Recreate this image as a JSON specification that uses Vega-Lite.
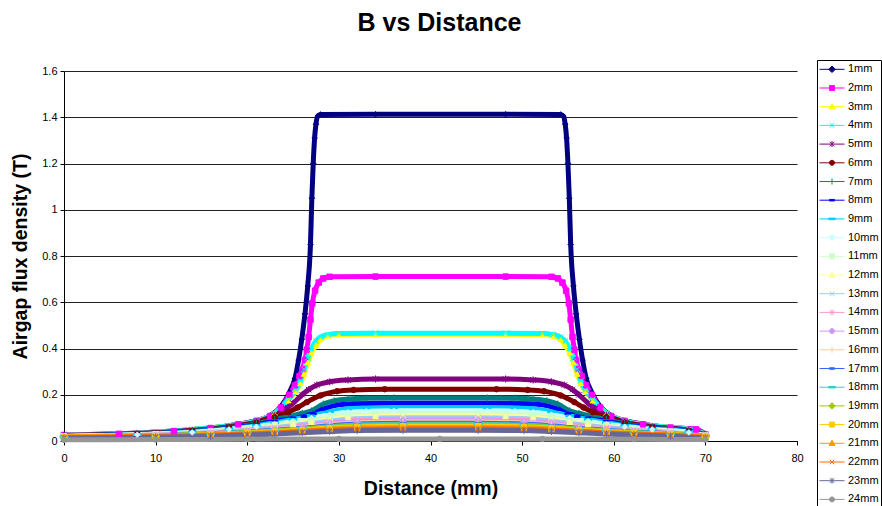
{
  "$schema": "https://vega.github.io/schema/vega-lite/v6.json",
  "width": 733,
  "height": 370,
  "autosize": "none",
  "padding": {"left": 64, "top": 71, "right": 85, "bottom": 65},
  "background": "white",
  "title": {"text": "B vs Distance", "font": "Liberation Sans", "fontSize": 25, "fontWeight": "bold", "color": "#000", "anchor": "middle", "dx": 9, "offset": 24},
  "data": {"values": [
    {"g":1,"x":0,"y":0.026},{"g":1,"x":6,"y":0.031},{"g":1,"x":12,"y":0.043},{"g":1,"x":16,"y":0.056},{"g":1,"x":19,"y":0.073},{"g":1,"x":21,"y":0.088},{"g":1,"x":22.5,"y":0.11},{"g":1,"x":23.7,"y":0.15},{"g":1,"x":24.6,"y":0.21},{"g":1,"x":25.2,"y":0.27},{"g":1,"x":25.6,"y":0.35},{"g":1,"x":25.95,"y":0.44},{"g":1,"x":26.3,"y":0.55},{"g":1,"x":26.6,"y":0.67},{"g":1,"x":26.9,"y":0.85},{"g":1,"x":27.05,"y":1.05},{"g":1,"x":27.2,"y":1.2},{"g":1,"x":27.35,"y":1.31},{"g":1,"x":27.5,"y":1.37},{"g":1,"x":27.7,"y":1.405},{"g":1,"x":28,"y":1.412},{"g":1,"x":34,"y":1.413},
    {"g":1,"x":48.2,"y":1.413},{"g":1,"x":54.2,"y":1.412},{"g":1,"x":54.5,"y":1.405},{"g":1,"x":54.7,"y":1.37},{"g":1,"x":54.85,"y":1.31},{"g":1,"x":55,"y":1.2},{"g":1,"x":55.15,"y":1.05},{"g":1,"x":55.3,"y":0.85},{"g":1,"x":55.6,"y":0.67},{"g":1,"x":55.9,"y":0.55},{"g":1,"x":56.25,"y":0.44},{"g":1,"x":56.6,"y":0.35},{"g":1,"x":57,"y":0.27},{"g":1,"x":57.6,"y":0.21},{"g":1,"x":58.5,"y":0.15},{"g":1,"x":59.7,"y":0.11},{"g":1,"x":61.2,"y":0.088},{"g":1,"x":63.2,"y":0.073},{"g":1,"x":66.2,"y":0.058},{"g":1,"x":69,"y":0.05},{"g":1,"x":70,"y":0.03},
    {"g":2,"x":0,"y":0.026},{"g":2,"x":6,"y":0.031},{"g":2,"x":12,"y":0.043},{"g":2,"x":16,"y":0.056},{"g":2,"x":19,"y":0.072},{"g":2,"x":21,"y":0.087},{"g":2,"x":22.5,"y":0.108},{"g":2,"x":23.7,"y":0.145},{"g":2,"x":24.6,"y":0.2},{"g":2,"x":25.2,"y":0.24},{"g":2,"x":25.7,"y":0.28},{"g":2,"x":26,"y":0.31},{"g":2,"x":26.3,"y":0.35},{"g":2,"x":26.5,"y":0.395},{"g":2,"x":26.7,"y":0.45},{"g":2,"x":26.9,"y":0.525},{"g":2,"x":27.1,"y":0.595},{"g":2,"x":27.4,"y":0.65},{"g":2,"x":27.8,"y":0.685},{"g":2,"x":28.3,"y":0.703},{"g":2,"x":29,"y":0.71},{"g":2,"x":34,"y":0.711},
    {"g":2,"x":48.2,"y":0.711},{"g":2,"x":53.2,"y":0.71},{"g":2,"x":53.9,"y":0.703},{"g":2,"x":54.4,"y":0.685},{"g":2,"x":54.8,"y":0.65},{"g":2,"x":55.1,"y":0.595},{"g":2,"x":55.3,"y":0.525},{"g":2,"x":55.5,"y":0.45},{"g":2,"x":55.7,"y":0.395},{"g":2,"x":55.9,"y":0.35},{"g":2,"x":56.2,"y":0.31},{"g":2,"x":56.5,"y":0.28},{"g":2,"x":57,"y":0.24},{"g":2,"x":57.6,"y":0.2},{"g":2,"x":58.5,"y":0.145},{"g":2,"x":59.7,"y":0.108},{"g":2,"x":61.2,"y":0.087},{"g":2,"x":63.2,"y":0.072},{"g":2,"x":66.2,"y":0.058},{"g":2,"x":69,"y":0.05},{"g":2,"x":70,"y":0.028},
    {"g":3,"x":0,"y":0.025},{"g":3,"x":8,"y":0.034},{"g":3,"x":14,"y":0.05},{"g":3,"x":18,"y":0.066},{"g":3,"x":21,"y":0.086},{"g":3,"x":23,"y":0.12},{"g":3,"x":24.5,"y":0.175},{"g":3,"x":25.3,"y":0.215},{"g":3,"x":25.8,"y":0.25},{"g":3,"x":26.2,"y":0.29},{"g":3,"x":26.6,"y":0.34},{"g":3,"x":27,"y":0.38},{"g":3,"x":27.5,"y":0.415},{"g":3,"x":28,"y":0.44},{"g":3,"x":28.8,"y":0.455},{"g":3,"x":30,"y":0.46},{"g":3,"x":34,"y":0.462},
    {"g":3,"x":48.2,"y":0.462},{"g":3,"x":52.2,"y":0.46},{"g":3,"x":53.4,"y":0.455},{"g":3,"x":54.2,"y":0.44},{"g":3,"x":54.7,"y":0.415},{"g":3,"x":55.2,"y":0.38},{"g":3,"x":55.6,"y":0.34},{"g":3,"x":56,"y":0.29},{"g":3,"x":56.4,"y":0.25},{"g":3,"x":56.9,"y":0.215},{"g":3,"x":57.7,"y":0.175},{"g":3,"x":59.2,"y":0.12},{"g":3,"x":61.2,"y":0.086},{"g":3,"x":64.2,"y":0.066},{"g":3,"x":68.2,"y":0.05},{"g":3,"x":70,"y":0.03},
    {"g":4,"x":0,"y":0.025},{"g":4,"x":8,"y":0.034},{"g":4,"x":14,"y":0.05},{"g":4,"x":18,"y":0.066},{"g":4,"x":21,"y":0.086},{"g":4,"x":23,"y":0.12},{"g":4,"x":24.5,"y":0.18},{"g":4,"x":25.3,"y":0.22},{"g":4,"x":25.8,"y":0.26},{"g":4,"x":26.2,"y":0.31},{"g":4,"x":26.6,"y":0.36},{"g":4,"x":27,"y":0.4},{"g":4,"x":27.5,"y":0.432},{"g":4,"x":28,"y":0.449},{"g":4,"x":28.8,"y":0.46},{"g":4,"x":30,"y":0.465},{"g":4,"x":34,"y":0.466},
    {"g":4,"x":48.2,"y":0.466},{"g":4,"x":52.2,"y":0.465},{"g":4,"x":53.4,"y":0.46},{"g":4,"x":54.2,"y":0.449},{"g":4,"x":54.7,"y":0.432},{"g":4,"x":55.2,"y":0.4},{"g":4,"x":55.6,"y":0.36},{"g":4,"x":56,"y":0.31},{"g":4,"x":56.4,"y":0.26},{"g":4,"x":56.9,"y":0.22},{"g":4,"x":57.7,"y":0.18},{"g":4,"x":59.2,"y":0.12},{"g":4,"x":61.2,"y":0.086},{"g":4,"x":64.2,"y":0.066},{"g":4,"x":68.2,"y":0.05},{"g":4,"x":70,"y":0.03},
    {"g":5,"x":0,"y":0.024},{"g":5,"x":8,"y":0.032},{"g":5,"x":14,"y":0.046},{"g":5,"x":18,"y":0.062},{"g":5,"x":21,"y":0.082},{"g":5,"x":23,"y":0.112},{"g":5,"x":24.2,"y":0.14},{"g":5,"x":25,"y":0.163},{"g":5,"x":26,"y":0.2},{"g":5,"x":26.7,"y":0.222},{"g":5,"x":27.6,"y":0.242},{"g":5,"x":29,"y":0.256},{"g":5,"x":31,"y":0.264},{"g":5,"x":34,"y":0.268},
    {"g":5,"x":48.2,"y":0.268},{"g":5,"x":51.2,"y":0.264},{"g":5,"x":53.2,"y":0.256},{"g":5,"x":54.6,"y":0.242},{"g":5,"x":55.5,"y":0.222},{"g":5,"x":56.2,"y":0.2},{"g":5,"x":57.2,"y":0.163},{"g":5,"x":58,"y":0.14},{"g":5,"x":59.2,"y":0.112},{"g":5,"x":61.2,"y":0.082},{"g":5,"x":64.2,"y":0.062},{"g":5,"x":68.2,"y":0.046},{"g":5,"x":70,"y":0.028},
    {"g":6,"x":0,"y":0.023},{"g":6,"x":8,"y":0.031},{"g":6,"x":14,"y":0.044},{"g":6,"x":18,"y":0.06},{"g":6,"x":21,"y":0.08},{"g":6,"x":23,"y":0.103},{"g":6,"x":24.5,"y":0.125},{"g":6,"x":25.5,"y":0.145},{"g":6,"x":26.5,"y":0.168},{"g":6,"x":28,"y":0.197},{"g":6,"x":29.8,"y":0.215},{"g":6,"x":31.6,"y":0.221},{"g":6,"x":35,"y":0.224},
    {"g":6,"x":47.2,"y":0.224},{"g":6,"x":50.6,"y":0.221},{"g":6,"x":52.4,"y":0.215},{"g":6,"x":54.2,"y":0.197},{"g":6,"x":55.7,"y":0.168},{"g":6,"x":56.7,"y":0.145},{"g":6,"x":57.7,"y":0.125},{"g":6,"x":59.2,"y":0.103},{"g":6,"x":61.2,"y":0.08},{"g":6,"x":64.2,"y":0.06},{"g":6,"x":68.2,"y":0.044},{"g":6,"x":70,"y":0.027},
    {"g":7,"x":0,"y":0.022},{"g":7,"x":8,"y":0.03},{"g":7,"x":14,"y":0.042},{"g":7,"x":18,"y":0.057},{"g":7,"x":21,"y":0.075},{"g":7,"x":23,"y":0.093},{"g":7,"x":25,"y":0.11},{"g":7,"x":26,"y":0.12},{"g":7,"x":27,"y":0.13},{"g":7,"x":28.3,"y":0.16},{"g":7,"x":29.5,"y":0.174},{"g":7,"x":31,"y":0.182},{"g":7,"x":33,"y":0.185},{"g":7,"x":36,"y":0.186},
    {"g":7,"x":46.2,"y":0.186},{"g":7,"x":49.2,"y":0.185},{"g":7,"x":51.2,"y":0.182},{"g":7,"x":52.7,"y":0.174},{"g":7,"x":53.9,"y":0.16},{"g":7,"x":55.2,"y":0.13},{"g":7,"x":56.2,"y":0.12},{"g":7,"x":57.2,"y":0.11},{"g":7,"x":59.2,"y":0.093},{"g":7,"x":61.2,"y":0.075},{"g":7,"x":64.2,"y":0.057},{"g":7,"x":68.2,"y":0.042},{"g":7,"x":70,"y":0.026},
    {"g":8,"x":0,"y":0.021},{"g":8,"x":8,"y":0.029},{"g":8,"x":14,"y":0.04},{"g":8,"x":18,"y":0.054},{"g":8,"x":21,"y":0.07},{"g":8,"x":23,"y":0.085},{"g":8,"x":25,"y":0.097},{"g":8,"x":26.2,"y":0.106},{"g":8,"x":27.2,"y":0.118},{"g":8,"x":28.3,"y":0.138},{"g":8,"x":29.8,"y":0.155},{"g":8,"x":31.5,"y":0.161},{"g":8,"x":35,"y":0.163},
    {"g":8,"x":47.2,"y":0.163},{"g":8,"x":50.7,"y":0.161},{"g":8,"x":52.4,"y":0.155},{"g":8,"x":53.9,"y":0.138},{"g":8,"x":55,"y":0.118},{"g":8,"x":56,"y":0.106},{"g":8,"x":57.2,"y":0.097},{"g":8,"x":59.2,"y":0.085},{"g":8,"x":61.2,"y":0.07},{"g":8,"x":64.2,"y":0.054},{"g":8,"x":68.2,"y":0.04},{"g":8,"x":70,"y":0.025},
    {"g":9,"x":0,"y":0.021},{"g":9,"x":8,"y":0.028},{"g":9,"x":14,"y":0.039},{"g":9,"x":18,"y":0.052},{"g":9,"x":21,"y":0.066},{"g":9,"x":23,"y":0.079},{"g":9,"x":25,"y":0.093},{"g":9,"x":27,"y":0.108},{"g":9,"x":29,"y":0.127},{"g":9,"x":31,"y":0.139},{"g":9,"x":33,"y":0.143},{"g":9,"x":36,"y":0.145},
    {"g":9,"x":46.2,"y":0.145},{"g":9,"x":49.2,"y":0.143},{"g":9,"x":51.2,"y":0.139},{"g":9,"x":53.2,"y":0.127},{"g":9,"x":55.2,"y":0.108},{"g":9,"x":57.2,"y":0.093},{"g":9,"x":59.2,"y":0.079},{"g":9,"x":61.2,"y":0.066},{"g":9,"x":64.2,"y":0.052},{"g":9,"x":68.2,"y":0.039},{"g":9,"x":70,"y":0.024},
    {"g":10,"x":0,"y":0.02},{"g":10,"x":8,"y":0.027},{"g":10,"x":14,"y":0.037},{"g":10,"x":18,"y":0.05},{"g":10,"x":21,"y":0.062},{"g":10,"x":23,"y":0.073},{"g":10,"x":25,"y":0.085},{"g":10,"x":27,"y":0.099},{"g":10,"x":29,"y":0.114},{"g":10,"x":31,"y":0.124},{"g":10,"x":33,"y":0.129},{"g":10,"x":36,"y":0.131},
    {"g":10,"x":46.2,"y":0.131},{"g":10,"x":49.2,"y":0.129},{"g":10,"x":51.2,"y":0.124},{"g":10,"x":53.2,"y":0.114},{"g":10,"x":55.2,"y":0.099},{"g":10,"x":57.2,"y":0.085},{"g":10,"x":59.2,"y":0.073},{"g":10,"x":61.2,"y":0.062},{"g":10,"x":64.2,"y":0.05},{"g":10,"x":68.2,"y":0.037},{"g":10,"x":70,"y":0.023},
    {"g":11,"x":0,"y":0.02},{"g":11,"x":10,"y":0.029},{"g":11,"x":16,"y":0.041},{"g":11,"x":20,"y":0.055},{"g":11,"x":23,"y":0.068},{"g":11,"x":25,"y":0.078},{"g":11,"x":27,"y":0.089},{"g":11,"x":29,"y":0.102},{"g":11,"x":31,"y":0.112},{"g":11,"x":34,"y":0.118},{"g":11,"x":37,"y":0.119},
    {"g":11,"x":45.2,"y":0.119},{"g":11,"x":48.2,"y":0.118},{"g":11,"x":51.2,"y":0.112},{"g":11,"x":53.2,"y":0.102},{"g":11,"x":55.2,"y":0.089},{"g":11,"x":57.2,"y":0.078},{"g":11,"x":59.2,"y":0.068},{"g":11,"x":62.2,"y":0.055},{"g":11,"x":66.2,"y":0.041},{"g":11,"x":70,"y":0.024},
    {"g":12,"x":0,"y":0.019},{"g":12,"x":10,"y":0.028},{"g":12,"x":16,"y":0.039},{"g":12,"x":20,"y":0.051},{"g":12,"x":23,"y":0.063},{"g":12,"x":25,"y":0.072},{"g":12,"x":27,"y":0.082},{"g":12,"x":29,"y":0.093},{"g":12,"x":31,"y":0.102},{"g":12,"x":34,"y":0.107},{"g":12,"x":37,"y":0.109},
    {"g":12,"x":45.2,"y":0.109},{"g":12,"x":48.2,"y":0.107},{"g":12,"x":51.2,"y":0.102},{"g":12,"x":53.2,"y":0.093},{"g":12,"x":55.2,"y":0.082},{"g":12,"x":57.2,"y":0.072},{"g":12,"x":59.2,"y":0.063},{"g":12,"x":62.2,"y":0.051},{"g":12,"x":66.2,"y":0.039},{"g":12,"x":70,"y":0.023},
    {"g":13,"x":0,"y":0.019},{"g":13,"x":10,"y":0.027},{"g":13,"x":16,"y":0.037},{"g":13,"x":20,"y":0.048},{"g":13,"x":23,"y":0.058},{"g":13,"x":26,"y":0.071},{"g":13,"x":29,"y":0.086},{"g":13,"x":32,"y":0.096},{"g":13,"x":37,"y":0.101},
    {"g":13,"x":45.2,"y":0.101},{"g":13,"x":50.2,"y":0.096},{"g":13,"x":53.2,"y":0.086},{"g":13,"x":56.2,"y":0.071},{"g":13,"x":59.2,"y":0.058},{"g":13,"x":62.2,"y":0.048},{"g":13,"x":66.2,"y":0.037},{"g":13,"x":70,"y":0.022},
    {"g":14,"x":0,"y":0.018},{"g":14,"x":10,"y":0.026},{"g":14,"x":16,"y":0.035},{"g":14,"x":20,"y":0.045},{"g":14,"x":23,"y":0.054},{"g":14,"x":26,"y":0.066},{"g":14,"x":29,"y":0.08},{"g":14,"x":32,"y":0.09},{"g":14,"x":37,"y":0.094},
    {"g":14,"x":45.2,"y":0.094},{"g":14,"x":50.2,"y":0.09},{"g":14,"x":53.2,"y":0.08},{"g":14,"x":56.2,"y":0.066},{"g":14,"x":59.2,"y":0.054},{"g":14,"x":62.2,"y":0.045},{"g":14,"x":66.2,"y":0.035},{"g":14,"x":70,"y":0.022},
    {"g":15,"x":0,"y":0.018},{"g":15,"x":10,"y":0.025},{"g":15,"x":16,"y":0.034},{"g":15,"x":20,"y":0.043},{"g":15,"x":23,"y":0.051},{"g":15,"x":26,"y":0.062},{"g":15,"x":29,"y":0.075},{"g":15,"x":32,"y":0.084},{"g":15,"x":37,"y":0.088},
    {"g":15,"x":45.2,"y":0.088},{"g":15,"x":50.2,"y":0.084},{"g":15,"x":53.2,"y":0.075},{"g":15,"x":56.2,"y":0.062},{"g":15,"x":59.2,"y":0.051},{"g":15,"x":62.2,"y":0.043},{"g":15,"x":66.2,"y":0.034},{"g":15,"x":70,"y":0.021},
    {"g":16,"x":0,"y":0.017},{"g":16,"x":10,"y":0.024},{"g":16,"x":16,"y":0.032},{"g":16,"x":20,"y":0.041},{"g":16,"x":23,"y":0.048},{"g":16,"x":26,"y":0.058},{"g":16,"x":29,"y":0.07},{"g":16,"x":32,"y":0.078},{"g":16,"x":37,"y":0.082},
    {"g":16,"x":45.2,"y":0.082},{"g":16,"x":50.2,"y":0.078},{"g":16,"x":53.2,"y":0.07},{"g":16,"x":56.2,"y":0.058},{"g":16,"x":59.2,"y":0.048},{"g":16,"x":62.2,"y":0.041},{"g":16,"x":66.2,"y":0.032},{"g":16,"x":70,"y":0.02},
    {"g":17,"x":0,"y":0.017},{"g":17,"x":10,"y":0.023},{"g":17,"x":16,"y":0.031},{"g":17,"x":20,"y":0.039},{"g":17,"x":23,"y":0.046},{"g":17,"x":26,"y":0.055},{"g":17,"x":29,"y":0.066},{"g":17,"x":32,"y":0.073},{"g":17,"x":37,"y":0.077},
    {"g":17,"x":45.2,"y":0.077},{"g":17,"x":50.2,"y":0.073},{"g":17,"x":53.2,"y":0.066},{"g":17,"x":56.2,"y":0.055},{"g":17,"x":59.2,"y":0.046},{"g":17,"x":62.2,"y":0.039},{"g":17,"x":66.2,"y":0.031},{"g":17,"x":70,"y":0.02},
    {"g":18,"x":0,"y":0.016},{"g":18,"x":10,"y":0.022},{"g":18,"x":16,"y":0.03},{"g":18,"x":20,"y":0.037},{"g":18,"x":23,"y":0.044},{"g":18,"x":26,"y":0.052},{"g":18,"x":29,"y":0.062},{"g":18,"x":32,"y":0.069},{"g":18,"x":37,"y":0.072},
    {"g":18,"x":45.2,"y":0.072},{"g":18,"x":50.2,"y":0.069},{"g":18,"x":53.2,"y":0.062},{"g":18,"x":56.2,"y":0.052},{"g":18,"x":59.2,"y":0.044},{"g":18,"x":62.2,"y":0.037},{"g":18,"x":66.2,"y":0.03},{"g":18,"x":70,"y":0.019},
    {"g":19,"x":0,"y":0.016},{"g":19,"x":10,"y":0.022},{"g":19,"x":16,"y":0.029},{"g":19,"x":20,"y":0.036},{"g":19,"x":23,"y":0.042},{"g":19,"x":26,"y":0.05},{"g":19,"x":29,"y":0.059},{"g":19,"x":32,"y":0.065},{"g":19,"x":37,"y":0.068},
    {"g":19,"x":45.2,"y":0.068},{"g":19,"x":50.2,"y":0.065},{"g":19,"x":53.2,"y":0.059},{"g":19,"x":56.2,"y":0.05},{"g":19,"x":59.2,"y":0.042},{"g":19,"x":62.2,"y":0.036},{"g":19,"x":66.2,"y":0.029},{"g":19,"x":70,"y":0.019},
    {"g":20,"x":0,"y":0.016},{"g":20,"x":10,"y":0.021},{"g":20,"x":16,"y":0.028},{"g":20,"x":20,"y":0.034},{"g":20,"x":23,"y":0.04},{"g":20,"x":26,"y":0.047},{"g":20,"x":29,"y":0.056},{"g":20,"x":32,"y":0.061},{"g":20,"x":37,"y":0.064},
    {"g":20,"x":45.2,"y":0.064},{"g":20,"x":50.2,"y":0.061},{"g":20,"x":53.2,"y":0.056},{"g":20,"x":56.2,"y":0.047},{"g":20,"x":59.2,"y":0.04},{"g":20,"x":62.2,"y":0.034},{"g":20,"x":66.2,"y":0.028},{"g":20,"x":70,"y":0.018},
    {"g":21,"x":0,"y":0.019},{"g":21,"x":10,"y":0.022},{"g":21,"x":16,"y":0.027},{"g":21,"x":20,"y":0.032},{"g":21,"x":23,"y":0.037},{"g":21,"x":26,"y":0.044},{"g":21,"x":29,"y":0.051},{"g":21,"x":32,"y":0.056},{"g":21,"x":37,"y":0.058},
    {"g":21,"x":45.2,"y":0.058},{"g":21,"x":50.2,"y":0.056},{"g":21,"x":53.2,"y":0.051},{"g":21,"x":56.2,"y":0.044},{"g":21,"x":59.2,"y":0.037},{"g":21,"x":62.2,"y":0.032},{"g":21,"x":66.2,"y":0.027},{"g":21,"x":70,"y":0.018},
    {"g":22,"x":0,"y":0.015},{"g":22,"x":10,"y":0.019},{"g":22,"x":16,"y":0.025},{"g":22,"x":20,"y":0.03},{"g":22,"x":23,"y":0.035},{"g":22,"x":26,"y":0.041},{"g":22,"x":29,"y":0.047},{"g":22,"x":32,"y":0.051},{"g":22,"x":37,"y":0.053},
    {"g":22,"x":45.2,"y":0.053},{"g":22,"x":50.2,"y":0.051},{"g":22,"x":53.2,"y":0.047},{"g":22,"x":56.2,"y":0.041},{"g":22,"x":59.2,"y":0.035},{"g":22,"x":62.2,"y":0.03},{"g":22,"x":66.2,"y":0.025},{"g":22,"x":70,"y":0.016},
    {"g":23,"x":0,"y":0.012},{"g":23,"x":10,"y":0.016},{"g":23,"x":16,"y":0.021},{"g":23,"x":20,"y":0.026},{"g":23,"x":23,"y":0.03},{"g":23,"x":26,"y":0.036},{"g":23,"x":29,"y":0.041},{"g":23,"x":32,"y":0.045},{"g":23,"x":37,"y":0.046},
    {"g":23,"x":45.2,"y":0.046},{"g":23,"x":50.2,"y":0.045},{"g":23,"x":53.2,"y":0.041},{"g":23,"x":56.2,"y":0.036},{"g":23,"x":59.2,"y":0.03},{"g":23,"x":62.2,"y":0.026},{"g":23,"x":66.2,"y":0.021},{"g":23,"x":70,"y":0.013},
    {"g":24,"x":0,"y":0.005},{"g":24,"x":10,"y":0.006},{"g":24,"x":20,"y":0.008},{"g":24,"x":30,"y":0.009},{"g":24,"x":41,"y":0.009},{"g":24,"x":52.2,"y":0.009},{"g":24,"x":62.2,"y":0.008},{"g":24,"x":70,"y":0.006}
  ]},
  "encoding": {
    "x": {"field": "x", "type": "quantitative", "scale": {"domain": [0, 80], "nice": false},
      "axis": {"title": "Distance (mm)", "values": [0, 10, 20, 30, 40, 50, 60, 70, 80], "grid": false, "labelPadding": 7, "titlePadding": 16, "labelFlush": false}},
    "y": {"field": "y", "type": "quantitative", "scale": {"domain": [0, 1.6], "nice": false},
      "axis": {"title": "Airgap flux density (T)", "values": [0, 0.2, 0.4, 0.6, 0.8, 1, 1.2, 1.4, 1.6], "format": "~g", "grid": true, "gridColor": "#222", "gridWidth": 1, "labelPadding": 3, "titlePadding": 11, "labelFlush": false}}
  },
  "layer": [
    {
      "mark": {"type": "line", "strokeWidth": 5, "interpolate": "monotone", "strokeCap": "butt", "strokeJoin": "round"},
      "encoding": {
        "stroke": {"field": "g", "type": "nominal", "legend": null,
          "scale": {"domain": [1,2,3,4,5,6,7,8,9,10,11,12,13,14,15,16,17,18,19,20,21,22,23,24],
            "range": ["#000080","#FF00FF","#FFFF00","#00FFFF","#800080","#800000","#008080","#0000FF","#00CCFF","#CCFFFF","#CCFFCC","#FFFF99","#99CCFF","#FF99CC","#CC99FF","#FFCC99","#3366FF","#33CCCC","#99CC00","#FFCC00","#FF9900","#FF6600","#666699","#969696"]}}
      }
    },
    {
      "mark": {"type": "point", "filled": true, "size": 30, "strokeWidth": 1, "opacity": 1},
      "encoding": {
        "fill": {"field": "g", "type": "nominal", "legend": null,
          "scale": {"domain": [1,2,3,4,5,6,7,8,9,10,11,12,13,14,15,16,17,18,19,20,21,22,23,24],
            "range": ["#000080","#FF00FF","#FFFF00","#00FFFF","#800080","#800000","#008080","#0000FF","#00CCFF","#CCFFFF","#CCFFCC","#FFFF99","#99CCFF","#FF99CC","#CC99FF","#FFCC99","#3366FF","#33CCCC","#99CC00","#FFCC00","#FF9900","#FF6600","#666699","#969696"]}},
        "stroke": {"field": "g", "type": "nominal", "legend": null,
          "scale": {"domain": [1,2,3,4,5,6,7,8,9,10,11,12,13,14,15,16,17,18,19,20,21,22,23,24],
            "range": ["#000080","#FF00FF","#FFFF00","#00FFFF","#800080","#800000","#008080","#0000FF","#00CCFF","#CCFFFF","#CCFFCC","#FFFF99","#99CCFF","#FF99CC","#CC99FF","#FFCC99","#3366FF","#33CCCC","#99CC00","#FFCC00","#FF9900","#FF6600","#666699","#969696"]}},
        "shape": {"field": "g", "type": "nominal", "legend": null,
          "scale": {"domain": [1,2,3,4,5,6,7,8,9,10,11,12,13,14,15,16,17,18,19,20,21,22,23,24],
            "range": ["diamond","square","triangle-up","M-1,-1L1,1M-1,1L1,-1","M-1,-1L1,1M-1,1L1,-1M0,-1.3V1.3","circle","M-1.3,0H1.3M0,-1.3V1.3","M-1.1,-0.35H1.1V0.35H-1.1Z","M-1.4,-0.35H1.4V0.35H-1.4Z",
                      "diamond","square","triangle-up","M-1,-1L1,1M-1,1L1,-1","M-1,-1L1,1M-1,1L1,-1M0,-1.3V1.3","circle","M-1.3,0H1.3M0,-1.3V1.3","M-1.1,-0.35H1.1V0.35H-1.1Z","M-1.4,-0.35H1.4V0.35H-1.4Z",
                      "diamond","square","triangle-up","M-1,-1L1,1M-1,1L1,-1","M-1,-1L1,1M-1,1L1,-1M0,-1.3V1.3","circle"]}}
      }
    },
    {
      "mark": {"type": "point", "filled": true, "opacity": 0},
      "encoding": {
        "fill": {"field": "g", "type": "nominal",
          "scale": {"domain": [1,2,3,4,5,6,7,8,9,10,11,12,13,14,15,16,17,18,19,20,21,22,23,24],
            "range": ["#000080","#FF00FF","#FFFF00","#00FFFF","#800080","#800000","#008080","#0000FF","#00CCFF","#CCFFFF","#CCFFCC","#FFFF99","#99CCFF","#FF99CC","#CC99FF","#FFCC99","#3366FF","#33CCCC","#99CC00","#FFCC00","#FF9900","#FF6600","#666699","#969696"]}},
        "stroke": {"field": "g", "type": "nominal",
          "scale": {"domain": [1,2,3,4,5,6,7,8,9,10,11,12,13,14,15,16,17,18,19,20,21,22,23,24],
            "range": ["#000080","#FF00FF","#FFFF00","#00FFFF","#800080","#800000","#008080","#0000FF","#00CCFF","#CCFFFF","#CCFFCC","#FFFF99","#99CCFF","#FF99CC","#CC99FF","#FFCC99","#3366FF","#33CCCC","#99CC00","#FFCC00","#FF9900","#FF6600","#666699","#969696"]}},
        "shape": {"field": "g", "type": "nominal",
          "scale": {"domain": [1,2,3,4,5,6,7,8,9,10,11,12,13,14,15,16,17,18,19,20,21,22,23,24],
            "range": ["M-1,0H1M0,-0.26L0.26,0L0,0.26L-0.26,0Z","M-1,0H1M-0.2,-0.2H0.2V0.2H-0.2Z","M-1,0H1M0,-0.25L0.24,0.17H-0.24Z","M-1,0H1M-0.18,-0.18L0.18,0.18M-0.18,0.18L0.18,-0.18","M-1,0H1M-0.18,-0.18L0.18,0.18M-0.18,0.18L0.18,-0.18M0,-0.24V0.24","M-1,0H1M-0.2,0A0.2,0.2,0,1,1,0.2,0A0.2,0.2,0,1,1,-0.2,0Z","M-1,0H1M0,-0.24V0.24","M-1,0H1M-0.2,-0.06H0.2V0.06H-0.2Z","M-1,0H1M-0.26,-0.06H0.26V0.06H-0.26Z",
                      "M-1,0H1M0,-0.26L0.26,0L0,0.26L-0.26,0Z","M-1,0H1M-0.2,-0.2H0.2V0.2H-0.2Z","M-1,0H1M0,-0.25L0.24,0.17H-0.24Z","M-1,0H1M-0.18,-0.18L0.18,0.18M-0.18,0.18L0.18,-0.18","M-1,0H1M-0.18,-0.18L0.18,0.18M-0.18,0.18L0.18,-0.18M0,-0.24V0.24","M-1,0H1M-0.2,0A0.2,0.2,0,1,1,0.2,0A0.2,0.2,0,1,1,-0.2,0Z","M-1,0H1M0,-0.24V0.24","M-1,0H1M-0.2,-0.06H0.2V0.06H-0.2Z","M-1,0H1M-0.26,-0.06H0.26V0.06H-0.26Z",
                      "M-1,0H1M0,-0.26L0.26,0L0,0.26L-0.26,0Z","M-1,0H1M-0.2,-0.2H0.2V0.2H-0.2Z","M-1,0H1M0,-0.25L0.24,0.17H-0.24Z","M-1,0H1M-0.18,-0.18L0.18,0.18M-0.18,0.18L0.18,-0.18","M-1,0H1M-0.18,-0.18L0.18,0.18M-0.18,0.18L0.18,-0.18M0,-0.24V0.24","M-1,0H1M-0.2,0A0.2,0.2,0,1,1,0.2,0A0.2,0.2,0,1,1,-0.2,0Z"]},
          "legend": {"orient": "none", "legendX": 753, "legendY": -11, "title": null, "padding": 2,
            "clipHeight": 14.6, "rowPadding": 3.7, "labelOffset": 3, "labelFont": "Liberation Sans", "labelFontSize": 11,
            "labelColor": "#000", "labelExpr": "datum.label + 'mm'", "symbolSize": 625, "symbolStrokeWidth": 1,
            "symbolOpacity": 1, "strokeColor": "#000", "fillColor": "#fff", "labelLimit": 60}}
      }
    }
  ],
  "resolve": {"scale": {"fill": "independent", "stroke": "independent", "shape": "independent"}},
  "config": {
    "view": {"stroke": null},
    "font": "Liberation Sans",
    "axis": {"labelFont": "Liberation Sans", "labelFontSize": 11, "labelColor": "#000",
      "titleFont": "Liberation Sans", "titleFontSize": 19.5, "titleFontWeight": "bold", "titleColor": "#000",
      "domainColor": "#000", "tickColor": "#000", "tickSize": 4, "domainWidth": 1, "tickWidth": 1}
  }
}
